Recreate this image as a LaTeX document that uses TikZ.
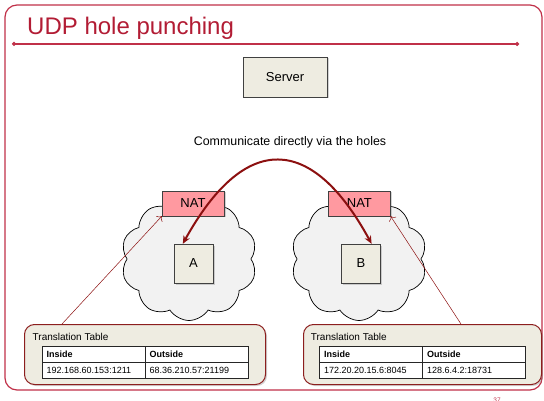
\documentclass[tikz,border=0pt]{standalone}
\usepackage{fontspec}
\setmainfont{Liberation Sans}
\usetikzlibrary{positioning,shapes.symbols,shadows,arrows.meta}

\definecolor{framered}{RGB}{192,48,72}
\definecolor{titlered}{RGB}{178,28,52}
\definecolor{arcred}{RGB}{140,16,16}
\definecolor{tableborder}{RGB}{140,30,30}
\definecolor{boxfill}{RGB}{238,236,225}
\definecolor{natfill}{RGB}{255,153,160}
\definecolor{cloudfill}{RGB}{242,242,242}

\tikzset{
  box/.style={draw=black!75, fill=boxfill, inner sep=0pt,
    drop shadow={shadow xshift=1.5pt, shadow yshift=-1.5pt, opacity=0.35},
    font=\fontsize{13}{15}\selectfont},
  natbox/.style={box, fill=natfill},
  netcloud/.style={cloud, cloud puffs=10, cloud puff arc=115, aspect=1.1, line width=0.7pt,
    draw=black, fill=cloudfill, minimum width=136pt, minimum height=123pt, inner sep=0pt},
  tablebox/.style={draw=tableborder, fill=boxfill, rounded corners=10pt, line width=1pt,
    drop shadow={shadow xshift=1.5pt, shadow yshift=-1.5pt, opacity=0.35}},
  cell/.style={draw=black!85, fill=white, outer sep=0pt, inner xsep=5pt, inner ysep=0pt,
    minimum height=16pt, text width=93pt, align=left, font=\fontsize{9}{10}\selectfont},
  headcell/.style={cell, font=\fontsize{9}{10}\selectfont\bfseries},
  holearc/.style={draw=arcred, line width=2pt,
    {Stealth[length=8pt,width=7pt]}-{Stealth[length=8pt,width=7pt]}},
  maplink/.style={draw=arcred, line width=0.5pt, -{To[length=4pt]}},
}

\begin{document}
\begin{tikzpicture}[x=1pt,y=-1pt]
\useasboundingbox (0,0) rectangle (544,401);

% slide frame and title
\draw[framered, line width=1.2pt, rounded corners=12pt] (5,5) rectangle (542,390);
\node[text=titlered, font=\fontsize{24}{28}\selectfont, anchor=base west, inner sep=0pt] (title) at (27,35) {UDP hole punching};
\draw[framered, line width=1.2pt, {Circle[length=4pt]}-{Circle[length=4pt]}] (12,44) -- (519,44);
\node[text=framered, font=\fontsize{6.5}{7}\selectfont, anchor=north, inner sep=0pt] (pagenum) at (497,398) {37};

\node[box, minimum width=84pt, minimum height=40pt] (server) at (285,77) {Server};
\node[font=\fontsize{12.4}{14}\selectfont] (caption) at (290,142) {Communicate directly via the holes};

% private networks
\node[netcloud] (cloudA) at (189,259) {};
\node[netcloud] (cloudB) at (359,259) {};
\node[natbox, minimum width=62pt, minimum height=25pt] (natA) at (193,203.5) {NAT};
\node[natbox, minimum width=62pt, minimum height=25pt, right=104pt of natA] (natB) {NAT};
\node[box, minimum size=39pt] (hostA) at (193.5,263.5) {A};
\node[box, minimum size=39pt, right=128pt of hostA] (hostB) {B};

\draw[holearc] ([xshift=9pt]hostA.north west) .. controls +(62,-112) and +(-60,-110) .. ([xshift=-9pt]hostB.north east);

% translation tables
\node[tablebox, minimum width=241pt, minimum height=60pt, anchor=north west] (tableA) at (24,324) {};
\node[font=\fontsize{10}{12}\selectfont, anchor=west, inner sep=0pt] (tableAlabel) at (32.5,337) {Translation Table};
\node[headcell, anchor=north west] (aIn) at (41.7,346) {Inside};
\node[headcell, right=0pt of aIn] (aOut) {Outside};
\node[cell, below=0pt of aIn] (aInV) {192.168.60.153:1211};
\node[cell, below=0pt of aOut] (aOutV) {68.36.210.57:21199};

\node[tablebox, minimum width=238pt, minimum height=60pt, anchor=north west] (tableB) at (303,324) {};
\node[font=\fontsize{10}{12}\selectfont, anchor=west, inner sep=0pt] (tableBlabel) at (310.7,337) {Translation Table};
\node[headcell, anchor=north west] (bIn) at (319,346) {Inside};
\node[headcell, right=0pt of bIn] (bOut) {Outside};
\node[cell, below=0pt of bIn] (bInV) {172.20.20.15.6:8045};
\node[cell, below=0pt of bOut] (bOutV) {128.6.4.2:18731};

\draw[maplink] ([xshift=38pt]tableA.north west) -- (natA.south west);
\draw[maplink] ([xshift=-81pt]tableB.north east) -- (natB.south east);
\end{tikzpicture}
\end{document}
